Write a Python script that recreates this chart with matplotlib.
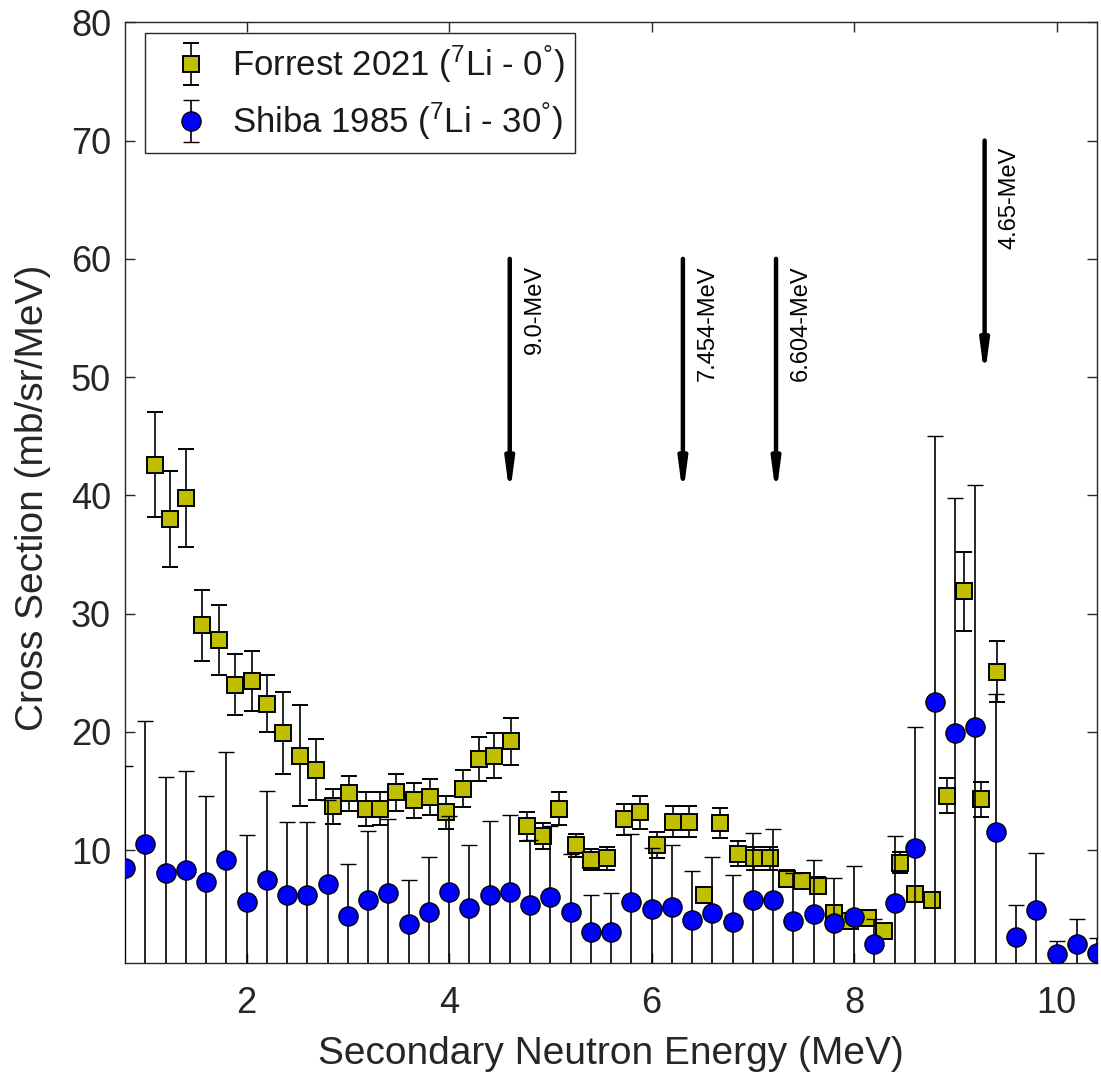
import matplotlib
matplotlib.use('Agg')
import matplotlib.pyplot as plt
from matplotlib.legend_handler import HandlerErrorbar

plt.rcParams['font.family'] = ['Liberation Sans', 'DejaVu Sans']
plt.rcParams['mathtext.fontset'] = 'custom'
plt.rcParams['mathtext.rm'] = 'Liberation Sans'
plt.rcParams['mathtext.it'] = 'Liberation Sans:italic'
plt.rcParams['mathtext.bf'] = 'Liberation Sans:bold'

# ---------------- data ----------------
forrest_E = [1.10, 1.24, 1.40, 1.56, 1.73, 1.89, 2.05, 2.20, 2.36, 2.53,
             2.69, 2.85, 3.01, 3.18, 3.32, 3.48, 3.65, 3.81, 3.97, 4.14,
             4.30, 4.44, 4.61, 4.77, 4.93, 5.09, 5.25, 5.40, 5.56, 5.73,
             5.89, 6.05, 6.21, 6.37, 6.52, 6.68, 6.85, 7.01, 7.17, 7.34,
             7.49, 7.64, 7.80, 7.96, 8.14, 8.30, 8.45, 8.60, 8.77, 8.92,
             9.09, 9.25, 9.41]
forrest_xs = [42.6, 38.0, 39.8, 29.0, 27.8, 24.0, 24.3, 22.4, 19.9, 18.0,
              16.8, 13.7, 14.8, 13.5, 13.5, 14.9, 14.2, 14.5, 13.2, 15.2,
              17.7, 18.0, 19.2, 12.0, 11.2, 13.5, 10.4, 9.2, 9.3, 12.6,
              13.2, 10.4, 12.4, 12.4, 6.2, 12.3, 9.7, 9.3, 9.3, 7.6,
              7.4, 7.0, 4.7, 4.0, 4.25, 3.2, 8.95, 6.3, 5.8, 14.6,
              31.9, 14.3, 25.1]
forrest_err = [4.45, 4.05, 4.15, 3.0, 2.95, 2.55, 2.55, 2.45, 3.45, 4.3,
               2.6, 1.45, 1.5, 1.45, 1.4, 1.55, 1.45, 1.5, 1.4, 1.55,
               1.85, 1.9, 2.0, 1.2, 1.1, 1.4, 1.0, 0.9, 0.95, 1.3,
               1.4, 1.1, 1.3, 1.3, 0.6, 1.3, 1.05, 0.95, 0.95, 0.75,
               0.7, 0.7, 0.5, 0.45, 0.45, 0.35, 0.9, 0.65, 0.6, 1.5,
               3.35, 1.5, 2.6]

shiba_E = [0.8, 1.0, 1.2, 1.4, 1.6, 1.8, 2.0, 2.2, 2.4, 2.6,
           2.8, 3.0, 3.2, 3.4, 3.6, 3.8, 4.0, 4.2, 4.4, 4.6,
           4.8, 5.0, 5.2, 5.4, 5.6, 5.8, 6.0, 6.2, 6.4, 6.6,
           6.8, 7.0, 7.2, 7.4, 7.6, 7.8, 8.0, 8.2, 8.4, 8.6,
           8.8, 9.0, 9.2, 9.4, 9.6, 9.8, 10.0, 10.2, 10.4]
shiba_xs = [8.5, 10.5, 8.1, 8.3, 7.3, 9.2, 5.6, 7.5, 6.2, 6.2,
            7.1, 4.4, 5.8, 6.35, 3.75, 4.75, 6.45, 5.15, 6.2, 6.5,
            5.35, 6.0, 4.8, 3.1, 3.1, 5.6, 5.0, 5.2, 4.1, 4.7,
            3.95, 5.75, 5.8, 4.0, 4.6, 3.8, 4.35, 2.1, 5.5, 10.2,
            22.55, 19.9, 20.45, 11.55, 2.65, 4.9, 1.2, 2.1, 1.3]
shiba_err = [8.6, 10.45, 8.1, 8.4, 7.3, 9.1, 5.7, 7.5, 6.2, 6.2,
             7.1, 4.4, 5.8, 6.3, 3.75, 4.7, 6.45, 5.3, 6.25, 6.5,
             5.5, 6.05, 4.85, 3.1, 3.25, 5.75, 5.2, 5.2, 4.15, 4.7,
             3.95, 5.7, 6.0, 4.1, 4.55, 3.85, 4.3, 2.1, 5.7, 10.2,
             22.5, 19.9, 20.4, 11.65, 2.7, 4.9, 1.15, 2.1, 1.3]

arrow_E = [4.60, 6.31, 7.23, 9.29]
arrow_top = [60, 60, 60, 70]
arrow_tip = [40, 40, 40, 50]
arrow_labels = ['9.0-MeV', '7.454-MeV', '6.604-MeV', '4.65-MeV']

forrest_label = r'Forrest 2021 ($^{7}$Li - 0$^{\mathrm{°}}$)'
shiba_label = r'Shiba 1985 ($^{7}$Li - 30$^{\mathrm{°}}$)'

# ---------------- figure ----------------
W, H = 1101, 1077
fig = plt.figure(figsize=(W / 100, H / 100), dpi=100)
fig.patch.set_facecolor('white')
ax = fig.add_axes([125 / W, (H - 962.5) / H, 972 / W, 940.2 / H])

dark = '#262626'

ax.errorbar(forrest_E, forrest_xs, yerr=forrest_err, fmt='s', ms=11.3,
            mfc='#BFBF00', mec='black', mew=1.4, ecolor='black',
            elinewidth=1.2, capsize=5.5, capthick=1.2, label=forrest_label,
            zorder=3)
ax.errorbar(shiba_E, shiba_xs, yerr=shiba_err, fmt='o', ms=13.8,
            mfc='#0000FF', mec='black', mew=1.0, ecolor='black',
            elinewidth=1.2, capsize=5.5, capthick=1.2, label=shiba_label,
            zorder=4)

for xe, yt, yb, lab in zip(arrow_E, arrow_top, arrow_tip, arrow_labels):
    ax.annotate('', xy=(xe, yb), xytext=(xe, yt),
                arrowprops=dict(arrowstyle='-|>,head_length=0.9,head_width=0.12',
                                lw=3.2, color='black', shrinkA=0, shrinkB=0,
                                mutation_scale=20), zorder=5)
    ax.text(xe + 0.14, yt - 0.55, lab, rotation=90, ha='left', va='top',
            fontsize=17, color='black', zorder=5)

ax.set_xlim(0.8, 10.4)
ax.set_ylim(0.5, 79.9)
ax.set_xticks([2, 4, 6, 8, 10])
ax.set_yticks([10, 20, 30, 40, 50, 60, 70, 80])

ax.tick_params(axis='both', which='major', direction='in', length=7,
               width=1.0, top=True, right=True, colors=dark, labelsize=26)
ax.tick_params(axis='x', pad=17)
ax.tick_params(axis='y', pad=10)
for sp in ax.spines.values():
    sp.set_color(dark)
    sp.set_linewidth(1.0)

ax.set_xlabel('Secondary Neutron Energy (MeV)', fontsize=28, color=dark)
ax.set_ylabel('Cross Section (mb/sr/MeV)', fontsize=28, color=dark)
ax.xaxis.set_label_coords(0.5, -0.078)
ax.yaxis.set_label_coords(-0.076, 0.494)

leg = ax.legend(loc='upper left', bbox_to_anchor=(0.021, 0.989),
                borderaxespad=0, fontsize=25, frameon=True, fancybox=False,
                framealpha=1, edgecolor=dark, borderpad=0.3,
                handlelength=2.0, handletextpad=0.2, labelspacing=0.45,
                handler_map={type(ax.containers[0]): HandlerErrorbar(yerr_size=0.6)})
leg.get_frame().set_linewidth(1.0)
for t in leg.get_texts():
    t.set_color('#1a1a1a')

fig.savefig('out.png', dpi=100)
